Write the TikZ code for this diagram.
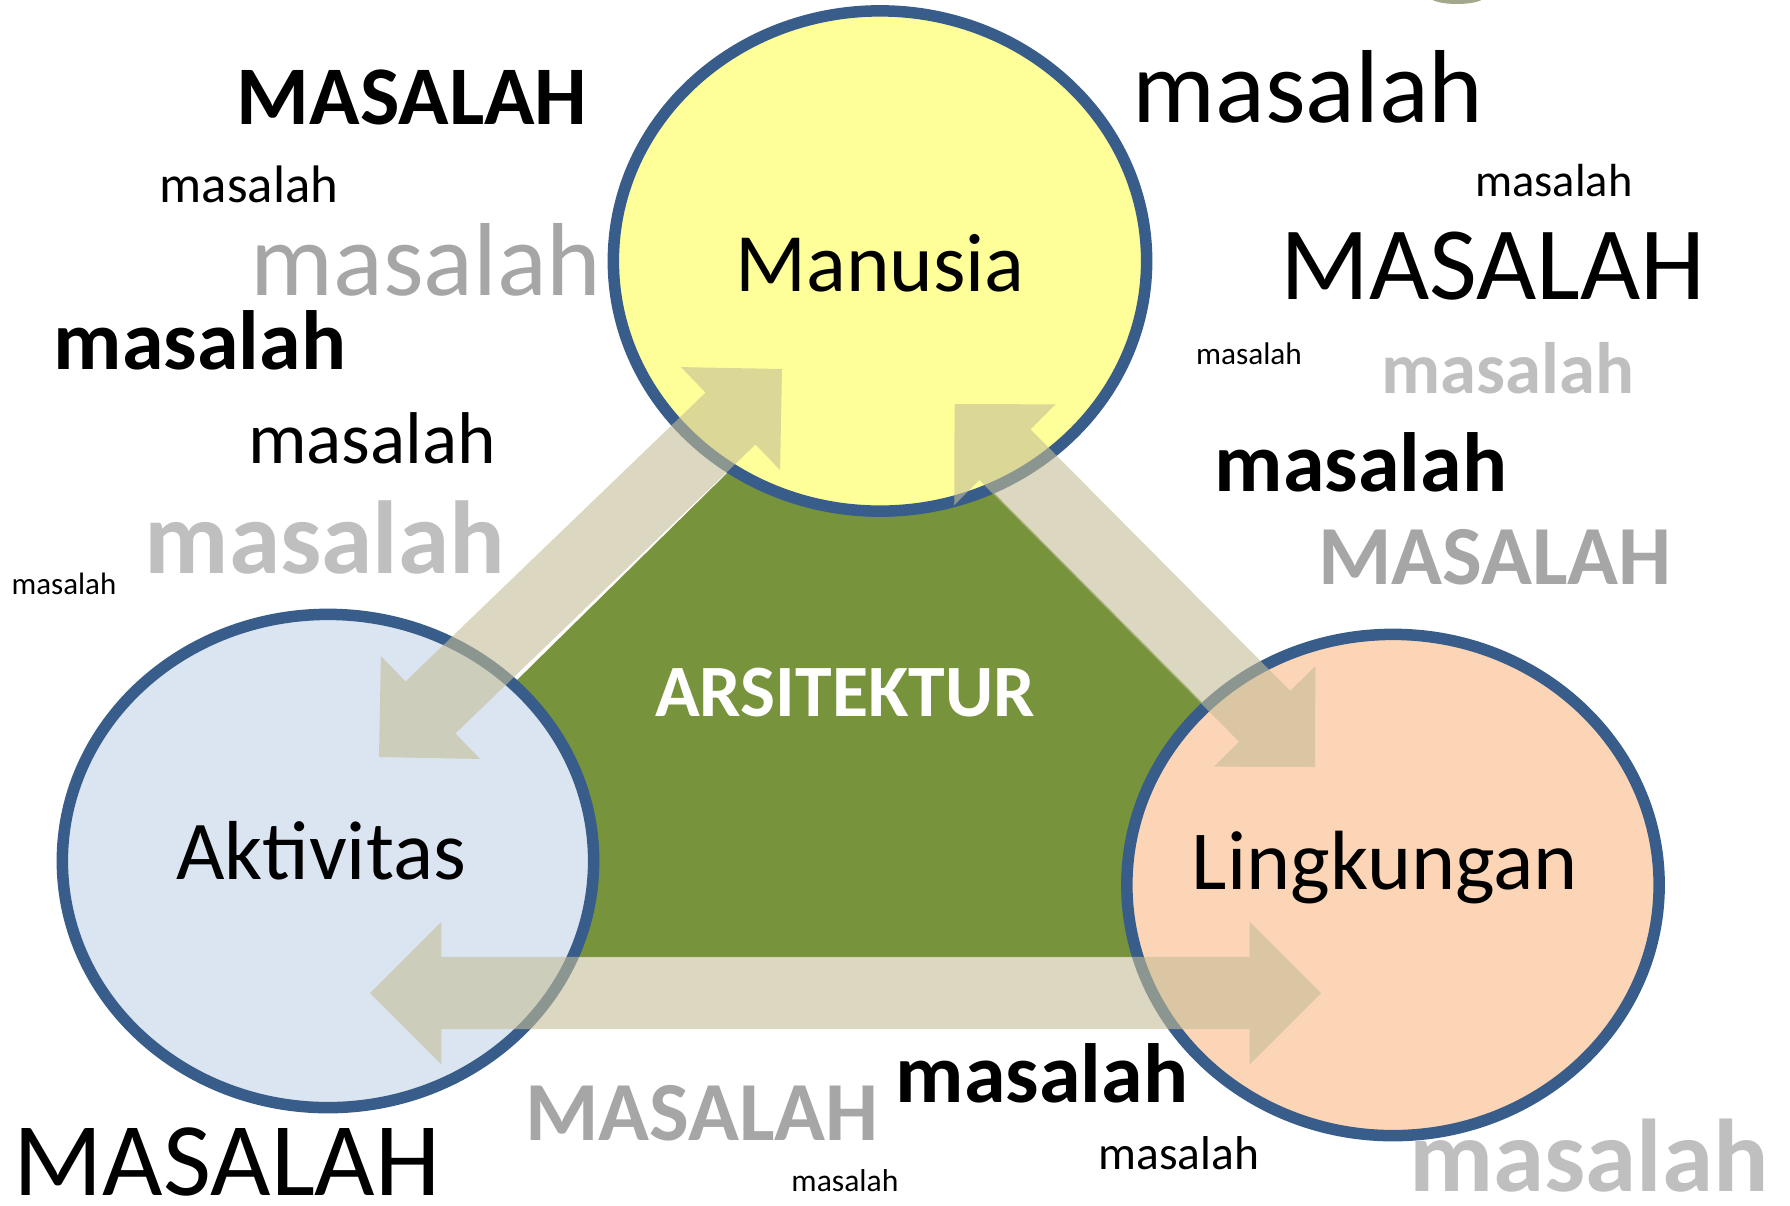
\documentclass[tikz,border=0pt]{standalone}
\usepackage{fontspec}
\setmainfont{Carlito}
\usetikzlibrary{calc,shapes.geometric}
\definecolor{ring}{HTML}{385D8A}
\definecolor{manfill}{HTML}{FFFF99}
\definecolor{aktfill}{HTML}{DBE5F1}
\definecolor{linfill}{HTML}{FBD5B5}
\definecolor{archgreen}{HTML}{77933C}
\definecolor{arrowc}{HTML}{C4BD97}
\definecolor{dgray}{HTML}{A6A6A6}
\definecolor{lgray}{HTML}{BFBFBF}
\definecolor{blob}{HTML}{A4A78C}
\tikzset{
  bubble/.style={ellipse, draw=ring, line width=0.115cm, inner sep=0pt},
  arrowfill/.style={fill=arrowc, fill opacity=0.6},
  word/.style={inner sep=0pt, anchor=center},
  fsize/.style={font=\fontsize{#1}{#1}\selectfont},
  bfsize/.style={font=\fontsize{#1}{#1}\selectfont\bfseries},
}
\newcommand\blockarrow[3]{%
  \coordinate (#3a) at ($(#1)!0.714cm!(#2)$);
  \coordinate (#3b) at ($(#2)!0.714cm!(#1)$);
  \fill[arrowfill] (#1) -- ($(#3a)!0.714cm!90:(#2)$) -- ($(#3a)!0.36cm!90:(#2)$)
    -- ($(#3b)!0.36cm!-90:(#1)$) -- ($(#3b)!0.714cm!-90:(#1)$) -- (#2)
    -- ($(#3b)!0.714cm!90:(#1)$) -- ($(#3b)!0.36cm!90:(#1)$)
    -- ($(#3a)!0.36cm!-90:(#2)$) -- ($(#3a)!0.714cm!-90:(#2)$) -- cycle;}
\begin{document}
\begin{tikzpicture}[x=0.01cm,y=-0.01cm]
\useasboundingbox (0,0) rectangle (1790,1205);
% small cut-off blob at top
\fill[blob] (1457,-3) ellipse [x radius=27, y radius=7];
% green triangle
\coordinate (gtop) at (852,350);
\coordinate (gleft) at (236,957);
\coordinate (gright) at (1455,957);
\fill[archgreen] (gtop) -- (gleft) -- (gright) -- cycle;
% circles
\node[bubble, fill=manfill, minimum width=5.33cm, minimum height=5.0cm] (man) at (880,261) {};
\node[bubble, fill=aktfill, minimum width=5.31cm, minimum height=4.93cm] (akt) at (328,861) {};
\node[bubble, fill=linfill, minimum width=5.32cm, minimum height=5.01cm] (lin) at (1393,885) {};
% arrows
\coordinate (lA) at (782,369);
\coordinate (lB) at (379,757);
\coordinate (rA) at (954.6,404);
\coordinate (rB) at (1315,767);
\coordinate (bA) at (370,993);
\coordinate (bB) at (1321,993);
\blockarrow{lA}{lB}{la}
\blockarrow{rA}{rB}{ra}
\blockarrow{bA}{bB}{ba}
% labels
\node[word, fsize=23.6pt] (tman) at (880,263) {Manusia};
\node[word, fsize=23.8pt] (takt) at (321,851) {Aktivitas};
\node[word, fsize=23.9pt] (tlin) at (1385,868) {Lingkungan};
\node[word, bfsize=21pt, text=white] (tarch) at (845,693) {ARSITEKTUR};
% scattered words
\node[word, bfsize=23.7pt] (w1) at (412,97) {MASALAH};
\node[word, fsize=15pt] (w2) at (249,184) {masalah};
\node[word, fsize=29.5pt, text=dgray] (w3) at (426,260) {masalah};
\node[word, bfsize=23.9pt] (w4) at (200,340) {masalah};
\node[word, fsize=20.85pt] (w5) at (372,438) {masalah};
\node[word, bfsize=29.5pt, text=lgray] (w6) at (325,537) {masalah};
\node[word, fsize=8.8pt] (w7) at (64,584) {masalah};
\node[word, fsize=29.5pt] (w8) at (1308,87) {masalah};
\node[word, fsize=13.2pt] (w9) at (1554,181) {masalah};
\node[word, fsize=29.6pt] (w10) at (1493,266) {MASALAH};
\node[word, fsize=8.9pt] (w11) at (1249,354) {masalah};
\node[word, bfsize=20.7pt, text=lgray] (w12) at (1508,368) {masalah};
\node[word, bfsize=23.9pt] (w13) at (1361,462) {masalah};
\node[word, bfsize=23.9pt, text=dgray] (w14) at (1495,557) {MASALAH};
\node[word, fsize=29.7pt] (w15) at (227,1162) {MASALAH};
\node[word, bfsize=23.9pt, text=dgray] (w16) at (702,1113) {MASALAH};
\node[word, bfsize=23.9pt] (w17) at (1042,1073) {masalah};
\node[word, fsize=13.5pt] (w18) at (1179,1153) {masalah};
\node[word, fsize=9pt] (w19) at (845,1181) {masalah};
\node[word, bfsize=29.4pt, text=lgray] (w20) at (1589,1156) {masalah};
\end{tikzpicture}
\end{document}
